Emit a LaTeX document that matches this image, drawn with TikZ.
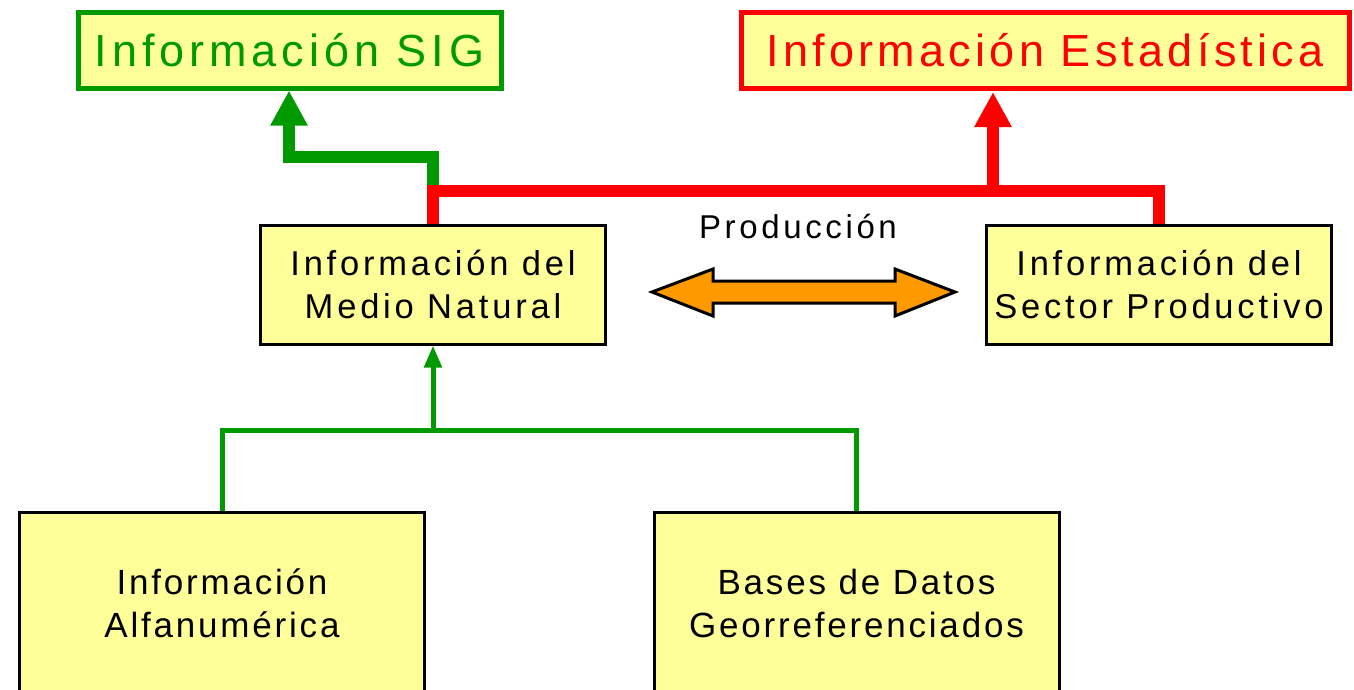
\documentclass[tikz,border=0pt]{standalone}
\usepackage{fontspec}
\setmainfont{Liberation Sans}[LetterSpace=11]
\usetikzlibrary{arrows.meta}
\definecolor{boxfill}{HTML}{FFFF99}
\definecolor{siggreen}{HTML}{009900}
\definecolor{estred}{HTML}{FF0000}
\definecolor{prodorange}{HTML}{FF9900}
\begin{document}
\begin{tikzpicture}[x=1pt,y=-1pt]
	\tikzstyle{Box} = [rectangle, draw=black, line width=3pt, fill=boxfill, align=center, inner sep=0pt]
	\tikzstyle{Top} = [rectangle, line width=5pt, fill=boxfill, inner sep=0pt, minimum height=76pt, font=\fontsize{45}{54}\selectfont]
	\tikzstyle{Mid} = [Box, minimum width=345pt, minimum height=119pt, font=\fontsize{34.5}{43}\selectfont]
	\tikzstyle{Low} = [Box, minimum width=405pt, minimum height=182pt, font=\fontsize{35}{43}\selectfont\addfontfeatures{LetterSpace=8}]
	\tikzstyle{Flow} = [line width=12pt]
	\tikzstyle{Feed} = [line width=5pt, siggreen]
	\useasboundingbox (0,0) rectangle (1354,689);
	\clip (0,0) rectangle (1354,689);
	% boxes
	\node (sig) at (289.5,50) [Top, draw=siggreen, text=siggreen, minimum width=423pt] {Información SIG};
	\node (est) at (1045,50) [Top, draw=estred, text=estred, minimum width=608pt, font=\fontsize{45}{54}\selectfont\addfontfeatures{LetterSpace=9.5}] {Información Estadística};
	\node (medio) at (433,284.5) [Mid] {Información del\\Medio Natural};
	\node (sector) at (1159,284.5) [Mid] {Información del\\Sector Productivo};
	\node (alfa) at (222,603) [Low] {Información\\Alfanumérica};
	\node (datos) at (856.5,603) [Low] {Bases de Datos\\Georreferenciados};
	\node (prod) at (798,227) [font=\fontsize{33}{40}\selectfont] {Producción};
	% double arrow
	\draw [line width=3pt, fill=prodorange, line join=miter]
		(652,292) -- (713,269) -- (713,281) -- (895,281) -- (895,269) -- (955,292)
		-- (895,316) -- (895,303) -- (713,303) -- (713,316) -- cycle;
	% feeding lines
	\coordinate (join) at (433,430);
	\draw [Feed] (alfa.north) -- (alfa.north |- join) -- (datos.north |- join) -- (datos.north);
	\draw [Feed, -{Triangle[length=22pt,width=17pt]}] (join) -- (medio.south);
	% outputs
	\coordinate (gbend) at (289,157);
	\coordinate (rbar) at (433,191);
	\draw [Flow, siggreen, -{Triangle[length=35pt,width=35pt]}] (rbar) -- (433,157) -- (gbend) -- (gbend |- sig.south);
	\draw [Flow, estred] (medio.north) -- (rbar) -- (sector.north |- rbar) -- (sector.north);
	\draw [Flow, estred, -{Triangle[length=35pt,width=35pt]}] (993,191) -- (993,92);
\end{tikzpicture}
\end{document}
